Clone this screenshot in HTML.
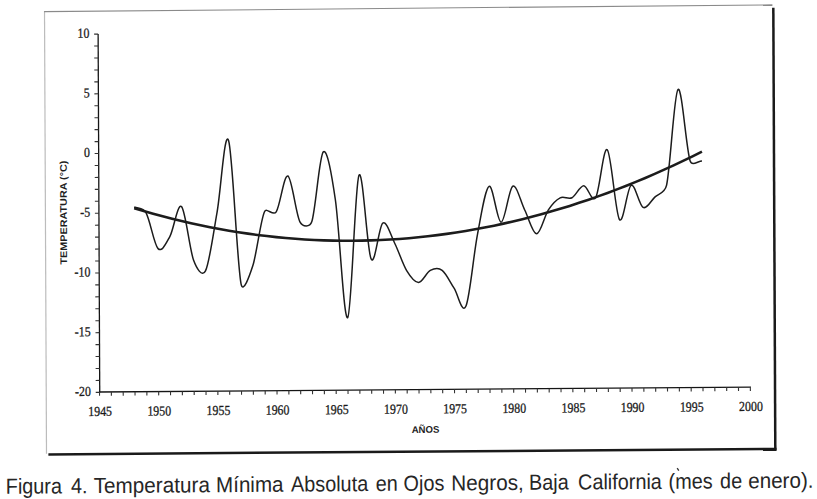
<!DOCTYPE html>
<html><head><meta charset="utf-8"><style>
html,body{margin:0;padding:0;background:#fff;width:817px;height:499px;overflow:hidden}
svg{position:absolute;left:0;top:0}
.tl{font-family:"Liberation Serif",serif;font-size:13.8px;fill:#1a1a1a;stroke:#1a1a1a;stroke-width:0.3px}
.at{font-family:"Liberation Sans",sans-serif;font-size:9.6px;font-weight:bold;fill:#1e1e1e}
.cap{font-family:"Liberation Sans",sans-serif;font-size:21.8px;fill:#262626}
</style></head><body>
<svg width="817" height="499" viewBox="0 0 817 499">
<g transform="matrix(1 -0.0075 0.0045 1 -1.1250 3.0600)">
<line x1="45.6" y1="8.3" x2="45.6" y2="451" stroke="#bcbcbc" stroke-width="1.2"/>
<line x1="45.2" y1="8.95" x2="773.5" y2="7.6" stroke="#8a8a8a" stroke-width="1.1"/>
<line x1="774.4" y1="10.5" x2="774.4" y2="452.9" stroke="#1a1a1a" stroke-width="2.5"/>
<line x1="47.5" y1="451.7" x2="775.6" y2="451.7" stroke="#1a1a1a" stroke-width="2.5"/>
<line x1="99.1" y1="31.779999999999987" x2="99.1" y2="390.2" stroke="#151515" stroke-width="1.3"/>
<line x1="95.1" y1="390.04" x2="99.1" y2="390.04" stroke="#333" stroke-width="1.1"/>
<line x1="95.1" y1="378.10" x2="99.1" y2="378.10" stroke="#333" stroke-width="1.1"/>
<line x1="95.1" y1="366.16" x2="99.1" y2="366.16" stroke="#333" stroke-width="1.1"/>
<line x1="95.1" y1="354.21" x2="99.1" y2="354.21" stroke="#333" stroke-width="1.1"/>
<line x1="95.1" y1="342.27" x2="99.1" y2="342.27" stroke="#333" stroke-width="1.1"/>
<line x1="95.1" y1="330.33" x2="99.1" y2="330.33" stroke="#333" stroke-width="1.1"/>
<line x1="95.1" y1="318.39" x2="99.1" y2="318.39" stroke="#333" stroke-width="1.1"/>
<line x1="95.1" y1="306.45" x2="99.1" y2="306.45" stroke="#333" stroke-width="1.1"/>
<line x1="95.1" y1="294.50" x2="99.1" y2="294.50" stroke="#333" stroke-width="1.1"/>
<line x1="95.1" y1="282.56" x2="99.1" y2="282.56" stroke="#333" stroke-width="1.1"/>
<line x1="95.1" y1="270.62" x2="99.1" y2="270.62" stroke="#333" stroke-width="1.1"/>
<line x1="95.1" y1="258.68" x2="99.1" y2="258.68" stroke="#333" stroke-width="1.1"/>
<line x1="95.1" y1="246.74" x2="99.1" y2="246.74" stroke="#333" stroke-width="1.1"/>
<line x1="95.1" y1="234.79" x2="99.1" y2="234.79" stroke="#333" stroke-width="1.1"/>
<line x1="95.1" y1="222.85" x2="99.1" y2="222.85" stroke="#333" stroke-width="1.1"/>
<line x1="95.1" y1="210.91" x2="99.1" y2="210.91" stroke="#333" stroke-width="1.1"/>
<line x1="95.1" y1="198.97" x2="99.1" y2="198.97" stroke="#333" stroke-width="1.1"/>
<line x1="95.1" y1="187.03" x2="99.1" y2="187.03" stroke="#333" stroke-width="1.1"/>
<line x1="95.1" y1="175.08" x2="99.1" y2="175.08" stroke="#333" stroke-width="1.1"/>
<line x1="95.1" y1="163.14" x2="99.1" y2="163.14" stroke="#333" stroke-width="1.1"/>
<line x1="95.1" y1="151.20" x2="99.1" y2="151.20" stroke="#333" stroke-width="1.1"/>
<line x1="95.1" y1="139.26" x2="99.1" y2="139.26" stroke="#333" stroke-width="1.1"/>
<line x1="95.1" y1="127.32" x2="99.1" y2="127.32" stroke="#333" stroke-width="1.1"/>
<line x1="95.1" y1="115.37" x2="99.1" y2="115.37" stroke="#333" stroke-width="1.1"/>
<line x1="95.1" y1="103.43" x2="99.1" y2="103.43" stroke="#333" stroke-width="1.1"/>
<line x1="95.1" y1="91.49" x2="99.1" y2="91.49" stroke="#333" stroke-width="1.1"/>
<line x1="95.1" y1="79.55" x2="99.1" y2="79.55" stroke="#333" stroke-width="1.1"/>
<line x1="95.1" y1="67.61" x2="99.1" y2="67.61" stroke="#333" stroke-width="1.1"/>
<line x1="95.1" y1="55.66" x2="99.1" y2="55.66" stroke="#333" stroke-width="1.1"/>
<line x1="95.1" y1="43.72" x2="99.1" y2="43.72" stroke="#333" stroke-width="1.1"/>
<line x1="95.1" y1="31.78" x2="99.1" y2="31.78" stroke="#333" stroke-width="1.1"/>
<line x1="98.5" y1="389.7" x2="750.315" y2="389.7" stroke="#151515" stroke-width="1.3"/>
<line x1="98.90" y1="389.7" x2="98.90" y2="393.5" stroke="#333" stroke-width="1.1"/>
<line x1="110.73" y1="389.7" x2="110.73" y2="393.5" stroke="#333" stroke-width="1.1"/>
<line x1="122.57" y1="389.7" x2="122.57" y2="393.5" stroke="#333" stroke-width="1.1"/>
<line x1="134.40" y1="389.7" x2="134.40" y2="393.5" stroke="#333" stroke-width="1.1"/>
<line x1="146.23" y1="389.7" x2="146.23" y2="393.5" stroke="#333" stroke-width="1.1"/>
<line x1="158.06" y1="389.7" x2="158.06" y2="393.5" stroke="#333" stroke-width="1.1"/>
<line x1="169.90" y1="389.7" x2="169.90" y2="393.5" stroke="#333" stroke-width="1.1"/>
<line x1="181.73" y1="389.7" x2="181.73" y2="393.5" stroke="#333" stroke-width="1.1"/>
<line x1="193.56" y1="389.7" x2="193.56" y2="393.5" stroke="#333" stroke-width="1.1"/>
<line x1="205.40" y1="389.7" x2="205.40" y2="393.5" stroke="#333" stroke-width="1.1"/>
<line x1="217.23" y1="389.7" x2="217.23" y2="393.5" stroke="#333" stroke-width="1.1"/>
<line x1="229.06" y1="389.7" x2="229.06" y2="393.5" stroke="#333" stroke-width="1.1"/>
<line x1="240.90" y1="389.7" x2="240.90" y2="393.5" stroke="#333" stroke-width="1.1"/>
<line x1="252.73" y1="389.7" x2="252.73" y2="393.5" stroke="#333" stroke-width="1.1"/>
<line x1="264.56" y1="389.7" x2="264.56" y2="393.5" stroke="#333" stroke-width="1.1"/>
<line x1="276.39" y1="389.7" x2="276.39" y2="393.5" stroke="#333" stroke-width="1.1"/>
<line x1="288.23" y1="389.7" x2="288.23" y2="393.5" stroke="#333" stroke-width="1.1"/>
<line x1="300.06" y1="389.7" x2="300.06" y2="393.5" stroke="#333" stroke-width="1.1"/>
<line x1="311.89" y1="389.7" x2="311.89" y2="393.5" stroke="#333" stroke-width="1.1"/>
<line x1="323.73" y1="389.7" x2="323.73" y2="393.5" stroke="#333" stroke-width="1.1"/>
<line x1="335.56" y1="389.7" x2="335.56" y2="393.5" stroke="#333" stroke-width="1.1"/>
<line x1="347.39" y1="389.7" x2="347.39" y2="393.5" stroke="#333" stroke-width="1.1"/>
<line x1="359.23" y1="389.7" x2="359.23" y2="393.5" stroke="#333" stroke-width="1.1"/>
<line x1="371.06" y1="389.7" x2="371.06" y2="393.5" stroke="#333" stroke-width="1.1"/>
<line x1="382.89" y1="389.7" x2="382.89" y2="393.5" stroke="#333" stroke-width="1.1"/>
<line x1="394.73" y1="389.7" x2="394.73" y2="393.5" stroke="#333" stroke-width="1.1"/>
<line x1="406.56" y1="389.7" x2="406.56" y2="393.5" stroke="#333" stroke-width="1.1"/>
<line x1="418.39" y1="389.7" x2="418.39" y2="393.5" stroke="#333" stroke-width="1.1"/>
<line x1="430.22" y1="389.7" x2="430.22" y2="393.5" stroke="#333" stroke-width="1.1"/>
<line x1="442.06" y1="389.7" x2="442.06" y2="393.5" stroke="#333" stroke-width="1.1"/>
<line x1="453.89" y1="389.7" x2="453.89" y2="393.5" stroke="#333" stroke-width="1.1"/>
<line x1="465.72" y1="389.7" x2="465.72" y2="393.5" stroke="#333" stroke-width="1.1"/>
<line x1="477.56" y1="389.7" x2="477.56" y2="393.5" stroke="#333" stroke-width="1.1"/>
<line x1="489.39" y1="389.7" x2="489.39" y2="393.5" stroke="#333" stroke-width="1.1"/>
<line x1="501.22" y1="389.7" x2="501.22" y2="393.5" stroke="#333" stroke-width="1.1"/>
<line x1="513.06" y1="389.7" x2="513.06" y2="393.5" stroke="#333" stroke-width="1.1"/>
<line x1="524.89" y1="389.7" x2="524.89" y2="393.5" stroke="#333" stroke-width="1.1"/>
<line x1="536.72" y1="389.7" x2="536.72" y2="393.5" stroke="#333" stroke-width="1.1"/>
<line x1="548.55" y1="389.7" x2="548.55" y2="393.5" stroke="#333" stroke-width="1.1"/>
<line x1="560.39" y1="389.7" x2="560.39" y2="393.5" stroke="#333" stroke-width="1.1"/>
<line x1="572.22" y1="389.7" x2="572.22" y2="393.5" stroke="#333" stroke-width="1.1"/>
<line x1="584.05" y1="389.7" x2="584.05" y2="393.5" stroke="#333" stroke-width="1.1"/>
<line x1="595.89" y1="389.7" x2="595.89" y2="393.5" stroke="#333" stroke-width="1.1"/>
<line x1="607.72" y1="389.7" x2="607.72" y2="393.5" stroke="#333" stroke-width="1.1"/>
<line x1="619.55" y1="389.7" x2="619.55" y2="393.5" stroke="#333" stroke-width="1.1"/>
<line x1="631.38" y1="389.7" x2="631.38" y2="393.5" stroke="#333" stroke-width="1.1"/>
<line x1="643.22" y1="389.7" x2="643.22" y2="393.5" stroke="#333" stroke-width="1.1"/>
<line x1="655.05" y1="389.7" x2="655.05" y2="393.5" stroke="#333" stroke-width="1.1"/>
<line x1="666.88" y1="389.7" x2="666.88" y2="393.5" stroke="#333" stroke-width="1.1"/>
<line x1="678.72" y1="389.7" x2="678.72" y2="393.5" stroke="#333" stroke-width="1.1"/>
<line x1="690.55" y1="389.7" x2="690.55" y2="393.5" stroke="#333" stroke-width="1.1"/>
<line x1="702.38" y1="389.7" x2="702.38" y2="393.5" stroke="#333" stroke-width="1.1"/>
<line x1="714.22" y1="389.7" x2="714.22" y2="393.5" stroke="#333" stroke-width="1.1"/>
<line x1="726.05" y1="389.7" x2="726.05" y2="393.5" stroke="#333" stroke-width="1.1"/>
<line x1="737.88" y1="389.7" x2="737.88" y2="393.5" stroke="#333" stroke-width="1.1"/>
<line x1="749.72" y1="389.7" x2="749.72" y2="393.5" stroke="#333" stroke-width="1.1"/>
<text x="90.3" y="35.28" text-anchor="end" class="tl" transform="translate(90.3 0) scale(0.86 1) translate(-90.3 0)">10</text>
<text x="90.3" y="94.99" text-anchor="end" class="tl" transform="translate(90.3 0) scale(0.86 1) translate(-90.3 0)">5</text>
<text x="90.3" y="154.70" text-anchor="end" class="tl" transform="translate(90.3 0) scale(0.86 1) translate(-90.3 0)">0</text>
<text x="90.3" y="214.41" text-anchor="end" class="tl" transform="translate(90.3 0) scale(0.86 1) translate(-90.3 0)">-5</text>
<text x="90.3" y="274.12" text-anchor="end" class="tl" transform="translate(90.3 0) scale(0.86 1) translate(-90.3 0)">-10</text>
<text x="90.3" y="333.83" text-anchor="end" class="tl" transform="translate(90.3 0) scale(0.86 1) translate(-90.3 0)">-15</text>
<text x="90.3" y="393.54" text-anchor="end" class="tl" transform="translate(90.3 0) scale(0.86 1) translate(-90.3 0)">-20</text>
<text x="99.40" y="413.6" text-anchor="middle" class="tl" transform="translate(99.40 0) scale(0.86 1) translate(-99.40 0)">1945</text>
<text x="158.56" y="413.6" text-anchor="middle" class="tl" transform="translate(158.56 0) scale(0.86 1) translate(-158.56 0)">1950</text>
<text x="217.73" y="413.6" text-anchor="middle" class="tl" transform="translate(217.73 0) scale(0.86 1) translate(-217.73 0)">1955</text>
<text x="276.89" y="413.6" text-anchor="middle" class="tl" transform="translate(276.89 0) scale(0.86 1) translate(-276.89 0)">1960</text>
<text x="336.06" y="413.6" text-anchor="middle" class="tl" transform="translate(336.06 0) scale(0.86 1) translate(-336.06 0)">1965</text>
<text x="395.23" y="413.6" text-anchor="middle" class="tl" transform="translate(395.23 0) scale(0.86 1) translate(-395.23 0)">1970</text>
<text x="454.39" y="413.6" text-anchor="middle" class="tl" transform="translate(454.39 0) scale(0.86 1) translate(-454.39 0)">1975</text>
<text x="513.56" y="413.6" text-anchor="middle" class="tl" transform="translate(513.56 0) scale(0.86 1) translate(-513.56 0)">1980</text>
<text x="572.72" y="413.6" text-anchor="middle" class="tl" transform="translate(572.72 0) scale(0.86 1) translate(-572.72 0)">1985</text>
<text x="631.88" y="413.6" text-anchor="middle" class="tl" transform="translate(631.88 0) scale(0.86 1) translate(-631.88 0)">1990</text>
<text x="691.05" y="413.6" text-anchor="middle" class="tl" transform="translate(691.05 0) scale(0.86 1) translate(-691.05 0)">1995</text>
<text x="750.22" y="413.6" text-anchor="middle" class="tl" transform="translate(750.22 0) scale(0.86 1) translate(-750.22 0)">2000</text>
<text x="424.7" y="433" text-anchor="middle" class="at">AÑOS</text>
<text transform="translate(67.0 262.0) rotate(-90)" x="0" y="0" class="at" textLength="104" lengthAdjust="spacingAndGlyphs">TEMPERATURA (°C)</text>
<text transform="translate(4.72 490.7) scale(0.91 1)" x="0" y="0" class="cap">Figura</text>
<text transform="translate(69.94 490.7) scale(0.91 1)" x="0" y="0" class="cap">4.</text>
<text transform="translate(92.64 490.7) scale(0.95 1)" x="0" y="0" class="cap">Temperatura</text>
<text transform="translate(214.95 490.7) scale(0.945 1)" x="0" y="0" class="cap">Mínima</text>
<text transform="translate(289.94 490.7) scale(0.91 1)" x="0" y="0" class="cap">Absoluta</text>
<text transform="translate(374.73 490.7) scale(0.91 1)" x="0" y="0" class="cap">en</text>
<text transform="translate(402.53 490.7) scale(0.91 1)" x="0" y="0" class="cap">Ojos</text>
<text transform="translate(450.24 490.7) scale(0.95 1)" x="0" y="0" class="cap">Negros,</text>
<text transform="translate(527.92 490.7) scale(0.91 1)" x="0" y="0" class="cap">Baja</text>
<text transform="translate(577.03 490.7) scale(0.91 1)" x="0" y="0" class="cap">California</text>
<text transform="translate(667.53 490.7) scale(0.91 1)" x="0" y="0" class="cap">(mes</text>
<text transform="translate(719.03 490.7) scale(0.91 1)" x="0" y="0" class="cap">de</text>
<text transform="translate(747.20 490.7) scale(0.945 1)" x="0" y="0" class="cap">enero).</text>
<line x1="676.2" y1="470.1" x2="677.8" y2="472.6" stroke="#333" stroke-width="1.3"/>
<polyline points="134.40,206.21 143.87,209.10 153.33,211.85 162.80,214.49 172.26,216.99 181.73,219.37 191.20,221.61 200.66,223.74 210.13,225.73 219.60,227.60 229.06,229.34 238.53,230.95 248.00,232.43 257.46,233.79 266.93,235.02 276.39,236.12 285.86,237.10 295.33,237.95 304.79,238.67 314.26,239.26 323.73,239.72 333.19,240.06 342.66,240.27 352.13,240.35 361.59,240.31 371.06,240.14 380.53,239.84 389.99,239.41 399.46,238.86 408.92,238.18 418.39,237.37 427.86,236.43 437.32,235.37 446.79,234.18 456.26,232.86 465.72,231.41 475.19,229.84 484.66,228.14 494.12,226.31 503.59,224.35 513.06,222.27 522.52,220.06 531.99,217.72 541.45,215.26 550.92,212.66 560.39,209.94 569.85,207.10 579.32,204.12 588.79,201.02 598.25,197.79 607.72,194.43 617.19,190.95 626.65,187.34 636.12,183.60 645.58,179.73 655.05,175.73 664.52,171.61 673.98,167.36 683.45,162.99 692.92,158.48 702.38,153.85" fill="none" stroke="#1c1c1c" stroke-width="2.6"/>
<path d="M134.40,204.94 C138.34,206.93 142.97,205.14 146.23,210.91 C150.18,217.88 154.12,242.76 158.06,246.74 C162.01,250.72 165.95,241.76 169.90,234.79 C173.84,227.83 177.79,200.96 181.73,204.94 C185.68,208.92 189.62,247.93 193.56,258.68 C196.32,266.18 201.85,276.59 205.40,269.43 C209.34,261.46 213.29,232.60 217.23,210.91 C221.17,189.22 225.12,127.32 229.06,139.26 C233.01,151.20 236.95,261.66 240.90,282.56 C242.89,293.11 249.36,274.84 252.73,264.65 C256.67,252.71 260.62,219.87 264.56,210.91 C266.95,205.50 273.13,215.85 276.39,210.91 C280.34,204.94 284.28,173.39 288.23,175.08 C292.17,176.78 296.12,213.40 300.06,221.06 C302.77,226.32 310.00,226.66 311.89,221.06 C315.84,209.42 319.78,154.88 323.73,151.20 C327.67,147.52 332.09,174.61 335.56,198.97 C339.50,226.63 343.45,321.17 347.39,317.19 C351.34,313.21 355.28,184.84 359.23,175.08 C363.17,165.33 367.11,250.72 371.06,258.68 C375.00,266.64 378.95,225.44 382.89,222.85 C386.84,220.26 390.78,235.19 394.73,243.15 C398.67,251.11 402.61,264.05 406.56,270.62 C410.50,277.19 414.45,282.56 418.39,282.56 C422.34,282.56 426.28,272.61 430.22,270.62 C434.17,268.63 438.11,267.63 442.06,270.62 C446.00,273.61 449.95,282.56 453.89,288.53 C457.83,294.50 461.78,315.40 465.72,306.45 C469.67,297.49 473.61,254.70 477.56,234.79 C481.50,214.89 485.44,189.02 489.39,187.03 C493.33,185.04 497.28,222.85 501.22,222.85 C505.17,222.85 509.11,189.02 513.06,187.03 C517.00,185.04 520.94,202.95 524.89,210.91 C528.83,218.87 532.78,234.79 536.72,234.79 C540.67,234.79 544.61,216.88 548.55,210.91 C552.50,204.94 556.44,200.96 560.39,198.97 C564.33,196.98 568.28,200.96 572.22,198.97 C576.16,196.98 580.11,187.03 584.05,187.03 C588.00,187.03 591.94,204.94 595.89,198.97 C599.83,193.00 603.77,147.52 607.72,151.20 C611.66,154.88 615.61,215.09 619.55,221.06 C623.50,227.03 627.44,189.02 631.38,187.03 C635.33,185.04 639.27,207.13 643.22,209.12 C647.16,211.11 651.11,202.65 655.05,198.97 C659.00,195.29 665.08,195.24 666.88,187.03 C670.83,169.11 674.77,95.47 678.72,91.49 C682.66,87.51 686.61,151.20 690.55,163.14 C692.41,168.76 698.44,163.14 702.38,163.14" fill="none" stroke="#1c1c1c" stroke-width="1.5" stroke-linejoin="round"/>
</g>
</svg>
</body></html>
